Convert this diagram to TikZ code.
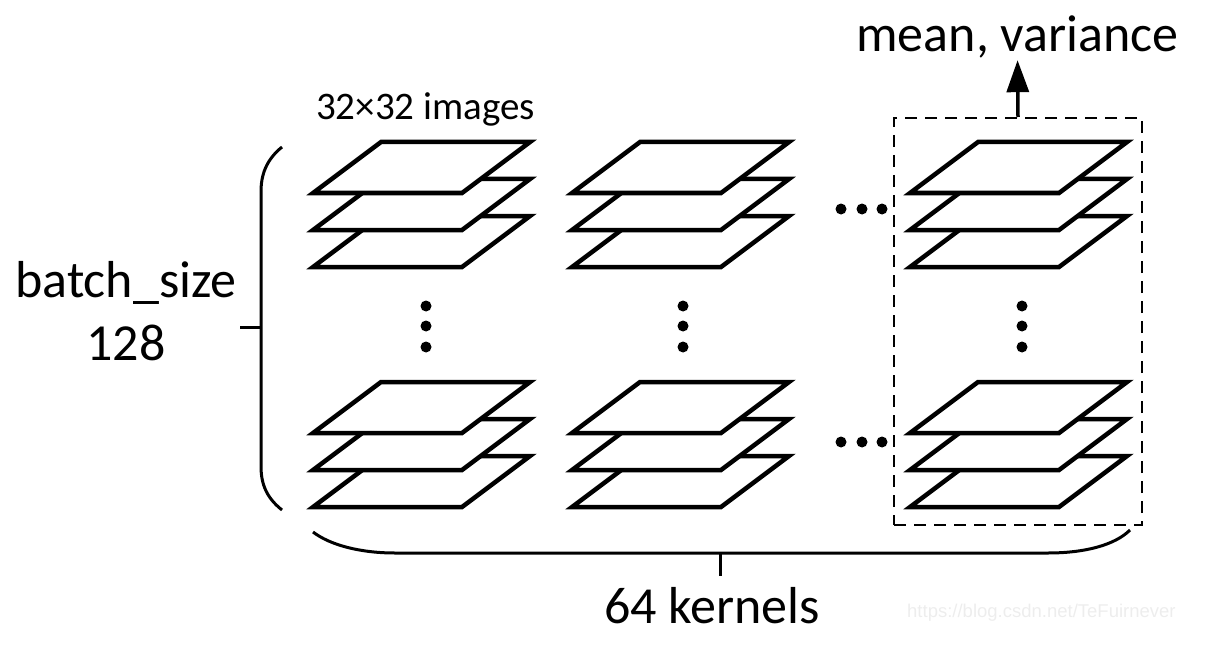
\documentclass[tikz,border=0pt]{standalone}
\usepackage{fontspec}
\setmainfont{Carlito}
\newfontfamily\urlfont{Liberation Sans}
\usepackage{tikz}
\usetikzlibrary{positioning, arrows.meta}
\definecolor{marklight}{HTML}{EDEDED}

\begin{document}
\begin{tikzpicture}[
  x=1pt, y=-1pt,
  plate/.style={draw, fill=white, line width=4.5pt, line join=miter},
  brace/.style={draw, line width=3pt},
  dashbox/.style={draw, line width=2pt, dash pattern=on 12pt off 8pt,
    minimum width=248pt, minimum height=407pt, inner sep=0pt},
  arr/.style={-{Triangle[length=32pt, width=22pt]}, line width=3.5pt},
  biglbl/.style={font=\fontsize{52}{63}\selectfont, inner sep=0pt, align=center},
  smalllbl/.style={font=\fontsize{39}{47}\selectfont, inner sep=0pt},
  dot/.style={fill=black}
]
  \useasboundingbox (0,0) rectangle (1208,650);

  % Plates (3 per stack)
  \foreach \bx in {313,572,910}
    \foreach \by in {267,507}
      \foreach \k in {0,1,2}
        \draw[plate] (\bx,\by-37*\k) -- ++(149,0) -- ++(68,-51) -- ++(-149,0) -- cycle;

  % Dots
  \foreach \dx in {426,683,1022}
    \foreach \dy in {306,326,347}
      \fill[dot] (\dx,\dy) circle (5.5);
  \foreach \dx in {841,862,882}
    \foreach \dy in {209,442}
      \fill[dot] (\dx,\dy) circle (5.5);

  % Last kernel
  \node[dashbox] (lastcol) at (1018,321.5) {};
  \node[biglbl, anchor=base, text depth=0pt] (stats) at (1017.5,52) {mean, variance};
  \draw[arr, shorten >=8pt] (lastcol.north) -- (stats.south);

  % Labels
  \node[smalllbl, anchor=base west] (imgs) at (316,120) {32×32 images};
  \node[biglbl] (batch) at (126,311) {batch\_size\\128};
  \node[biglbl, anchor=base] (kernels) at (712,623) {64 kernels};
  \node[font=\urlfont\fontsize{18.5}{22}\selectfont, text=marklight, inner sep=0pt,
    anchor=base west] (mark) at (907,617) {https://blog.csdn.net/TeFuirnever};

  % Braces
  \coordinate (lefttip) at (261,327);
  \coordinate (bottip) at (720,553);
  \draw[brace] (282,147) .. controls (266,160) and (261,175) .. (261,192)
    -- (261,466) .. controls (261,485) and (267,498) .. (282,510);
  \draw[brace] (lefttip) -- ++(-21,0);
  \draw[brace] (313,532) .. controls (330,545) and (360,553) .. (395,553)
    -- (1048,553) .. controls (1085,553) and (1115,545) .. (1130,530);
  \draw[brace] (bottip) -- ++(0,23);
\end{tikzpicture}
\end{document}
